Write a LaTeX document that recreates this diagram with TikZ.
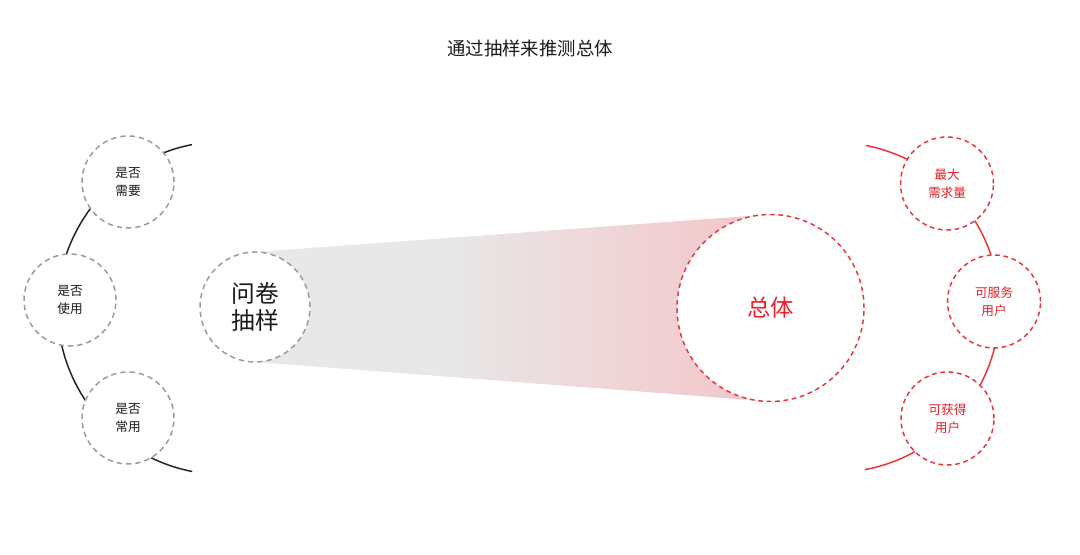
\documentclass[tikz,border=0pt]{standalone}
\usepackage{fontspec}
\setmainfont{Noto Sans CJK SC}
\definecolor{myred}{HTML}{E62129}
\definecolor{dashred}{HTML}{E8343B}
\definecolor{dashgray}{HTML}{9A9A9A}
\definecolor{arcblack}{HTML}{222222}
\definecolor{conegray}{HTML}{E8E8E8}
\definecolor{conepink}{HTML}{F5C4C8}
\definecolor{txtblack}{HTML}{1A1A1A}
\pgfdeclarehorizontalshading{cone}{100bp}{color(0bp)=(conegray); color(25bp)=(conegray); color(43bp)=(conegray); color(75bp)=(conepink); color(100bp)=(conepink)}
\tikzset{
  graycirc/.style={circle, draw=dashgray, fill=white, line width=1.1pt, dash pattern=on 4pt off 3pt, inner sep=0pt, minimum size=69pt, font=\fontsize{9.5pt}{13.5pt}\selectfont, text=txtblack, align=center},
  redcirc/.style={circle, draw=dashred, fill=white, line width=1.1pt, dash pattern=on 3.5pt off 2.8pt, inner sep=0pt, minimum size=69.75pt, font=\fontsize{9.5pt}{13.5pt}\selectfont, text=myred, align=center},
  arcline/.style={line width=1.1pt},
}
\begin{document}
\begin{tikzpicture}[x=0.75pt,y=0.75pt]
\useasboundingbox[fill=white] (0,0) rectangle (1080,555);
% title
\node[font=\fontsize{13.8pt}{16pt}\selectfont, text=txtblack] (title) at (530,507) {通过抽样来推测总体};
% cone
\shade[shading=cone] (255,303) -- (770.5,340.5) -- (770.5,153.5) -- (255,193) -- cycle;
% arcs
\draw[arcline, draw=arcblack] (224,247) ++(101.1:166.5*0.75pt) arc[start angle=101.1, end angle=259, radius=124.9pt];
\draw[arcline, draw=dashred] (834.5,247.5) ++(-79.4:165*0.75pt) arc[start angle=-79.4, end angle=79, radius=123.75pt];
% left circles
\node[graycirc] (a1) at (128,373) {是否\\需要};
\node[graycirc] (a2) at (70,255) {是否\\使用};
\node[graycirc] (a3) at (128,137) {是否\\常用};
% sample
\node[graycirc, minimum size=82.5pt, font=\fontsize{17.8pt}{20pt}\selectfont] (q) at (255,248) {问卷\\抽样};
% population
\node[redcirc, minimum size=140.25pt, font=\fontsize{17.5pt}{20pt}\selectfont] (t) at (770.5,247) {总体};
% right circles
\node[redcirc] (b1) at (947,371.5) {最大\\需求量};
\node[redcirc] (b2) at (994,253.5) {可服务\\用户};
\node[redcirc] (b3) at (947.5,136.5) {可获得\\用户};
\end{tikzpicture}
\end{document}
